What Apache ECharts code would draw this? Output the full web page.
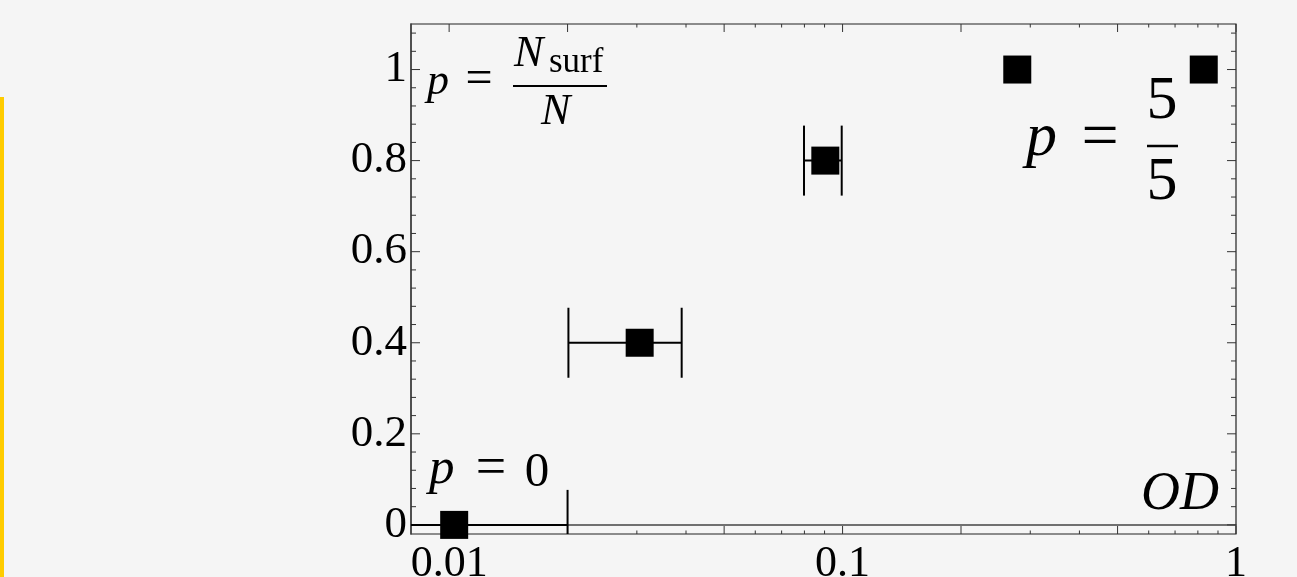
<!DOCTYPE html>
<html>
<head>
<meta charset="utf-8">
<style>
  html, body { margin: 0; padding: 0; background: #f5f5f5; }
  #main { width: 1297px; height: 577px; }
</style>
<script src="https://cdn.jsdelivr.net/npm/echarts@6/dist/echarts.min.js"></script>
</head>
<body>
<div id="main"></div>
<script>
"use strict"

// optical depth per sample and fraction of surfacing runs p
const od = [0.0103, 0.0305, 0.0904, 0.278, 0.828];
const pSurf = [0, 0.4, 0.8, 1, 1];
// horizontal error range on OD (null = no bar)
const odLow = [0.005, 0.0201, 0.0798, null, null];
const odHigh = [0.02, 0.039, 0.0995, null, null];

// tick marks
const xMajorTicks = [0.01, 0.02, 0.05, 0.1, 0.2, 0.5, 1];
const xMinorTicks = [0.03, 0.04, 0.06, 0.07, 0.08, 0.09, 0.3, 0.4, 0.6, 0.7, 0.8, 0.9];
const yMajorTicks = [0, 0.2, 0.4, 0.6, 0.8, 1];
const yMinorTicks = [0.04, 0.08, 0.12, 0.16, 0.24, 0.28, 0.32, 0.36, 0.44, 0.48, 0.52, 0.56,
                     0.64, 0.68, 0.72, 0.76, 0.84, 0.88, 0.92, 0.96, 1.04, 1.08];

const SERIF = '"Liberation Serif", "DejaVu Serif", serif';

const chart = echarts.init(document.getElementById('main'), null, {width: 1297, height: 577});

// error bar rows: [low, high, p]
const errData = [];
for (let i = 0; i < od.length; i++) {
    if (odLow[i] != null) {
        errData.push([odLow[i], odHigh[i], pSurf[i]]);
    }
}

function clampY(v, cs) {
    return Math.min(Math.max(v, cs.y), cs.y + cs.height);
}

function renderErrorBar(params, api) {
    const cs = params.coordSys;
    const lo = api.coord([api.value(0), api.value(2)]);
    const hi = api.coord([api.value(1), api.value(2)]);
    const cap = 35;
    const style = {stroke: '#000', lineWidth: 2};
    const x1 = Math.max(lo[0], cs.x);
    const x2 = Math.min(hi[0], cs.x + cs.width);
    const children = [
        {type: 'line', shape: {x1: x1, y1: lo[1], x2: x2, y2: hi[1]}, style: style}
    ];
    [lo, hi].forEach(function (pt) {
        if (pt[0] >= cs.x && pt[0] <= cs.x + cs.width) {
            children.push({
                type: 'line',
                shape: {x1: pt[0], y1: clampY(pt[1] - cap, cs), x2: pt[0], y2: clampY(pt[1] + cap, cs)},
                style: style
            });
        }
    });
    return {type: 'group', children: children};
}

// ticks on all four sides, drawn inward
const xTickData = xMajorTicks.map(v => [v, 0, 1]).concat(xMinorTicks.map(v => [v, 0, 0]));
const yTickData = yMajorTicks.map(v => [0.1, v, 1]).concat(yMinorTicks.map(v => [0.1, v, 0]));
const tickStyle = {stroke: '#333', lineWidth: 1};

function renderXTick(params, api) {
    const cs = params.coordSys;
    const p = api.coord([api.value(0), api.value(1)]);
    const len = api.value(2) ? 8 : 3.5;
    const bottom = cs.y + cs.height;
    return {type: 'group', children: [
        {type: 'line', shape: {x1: p[0], y1: bottom, x2: p[0], y2: bottom - len}, style: tickStyle},
        {type: 'line', shape: {x1: p[0], y1: cs.y, x2: p[0], y2: cs.y + len}, style: tickStyle}
    ]};
}

function renderYTick(params, api) {
    const cs = params.coordSys;
    const p = api.coord([api.value(0), api.value(1)]);
    const len = api.value(2) ? 9 : 5;
    const right = cs.x + cs.width;
    return {type: 'group', children: [
        {type: 'line', shape: {x1: cs.x, y1: p[1], x2: cs.x + len, y2: p[1]}, style: tickStyle},
        {type: 'line', shape: {x1: right, y1: p[1], x2: right - len, y2: p[1]}, style: tickStyle}
    ]};
}

// text helper: baseline-based placement
function txt(str, x, baseline, size, opts) {
    opts = opts || {};
    return {
        type: 'text',
        x: x,
        y: baseline - 0.3375 * size,
        z: 100,
        style: {
            text: str,
            font: (opts.italic ? 'italic ' : '') + size + 'px "Liberation Serif"',
            fill: '#000',
            align: opts.align || 'left',
            verticalAlign: 'middle'
        }
    };
}

function bar(x1, x2, y, w) {
    return {type: 'line', z: 100, shape: {x1: x1, y1: y, x2: x2, y2: y}, style: {stroke: '#000', lineWidth: w}};
}

const option = {
    backgroundColor: '#f5f5f5',
    animation: false,
    grid: {
        left: 411, right: 61, top: 24, bottom: 43,
        outerBoundsMode: 'none',
        containLabel: false,
        show: true, borderColor: '#222', borderWidth: 1.2, backgroundColor: 'transparent'
    },
    xAxis: {
        type: 'log',
        logBase: 10,
        min: 0.008,
        max: 1,
        axisLine: {show: true, lineStyle: {color: '#444', width: 1.5}},
        axisTick: {show: false},
        splitLine: {show: false},
        axisLabel: {
            showMinLabel: false,
            margin: 8,
            color: '#000',
            fontFamily: SERIF,
            fontSize: 44
        }
    },
    yAxis: {
        type: 'value',
        min: -0.02,
        max: 1.1,
        axisLine: {show: true, lineStyle: {color: '#444', width: 1.5}},
        axisTick: {show: false},
        splitLine: {show: false},
        axisLabel: {
            showMinLabel: false,
            showMaxLabel: false,
            margin: 4,
            color: '#000',
            fontFamily: SERIF,
            fontSize: 45
        }
    },
    graphic: [
        {type: 'rect', shape: {x: 0, y: 97, width: 4, height: 480}, style: {fill: '#ffcc00'}},
        // p = N_surf / N
        txt('p', 427, 97, 44, {italic: true}),
        txt('=', 479, 97, 48, {align: 'center'}),
        txt('N', 514, 69.5, 44, {italic: true}),
        txt('surf', 549, 75, 35),
        bar(513, 607, 86, 2),
        txt('N', 541, 127, 44, {italic: true}),
        // p = 5/5
        txt('p', 1026, 160, 62, {italic: true}),
        txt('=', 1100, 162, 66, {align: 'center'}),
        txt('5', 1162, 122.7, 62, {align: 'center'}),
        bar(1147, 1178, 146, 2.5),
        txt('5', 1162, 204, 62, {align: 'center'}),
        // p = 0
        txt('p', 429, 487, 51, {italic: true}),
        txt('=', 491, 488, 54, {align: 'center'}),
        txt('0', 537, 490, 49, {align: 'center'}),
        // OD
        txt('OD', 1219, 513, 54, {italic: true, align: 'right'})
    ],
    series: [
        {
            type: 'custom',
            name: 'xTicks',
            renderItem: renderXTick,
            encode: {x: 0, y: 1},
            data: xTickData,
            silent: true,
            z: 1
        },
        {
            type: 'custom',
            name: 'yTicks',
            renderItem: renderYTick,
            encode: {x: 0, y: 1},
            data: yTickData,
            silent: true,
            z: 1
        },
        {
            type: 'custom',
            name: 'errors',
            renderItem: renderErrorBar,
            encode: {x: [0, 1], y: 2},
            data: errData,
            z: 2
        },
        {
            type: 'scatter',
            name: 'p',
            symbol: 'rect',
            symbolSize: 28,
            clip: false,
            itemStyle: {color: '#000', opacity: 1},
            data: od.map((v, i) => [v, pSurf[i]]),
            z: 3
        }
    ]
};

chart.setOption(option);
</script>
</body>
</html>
